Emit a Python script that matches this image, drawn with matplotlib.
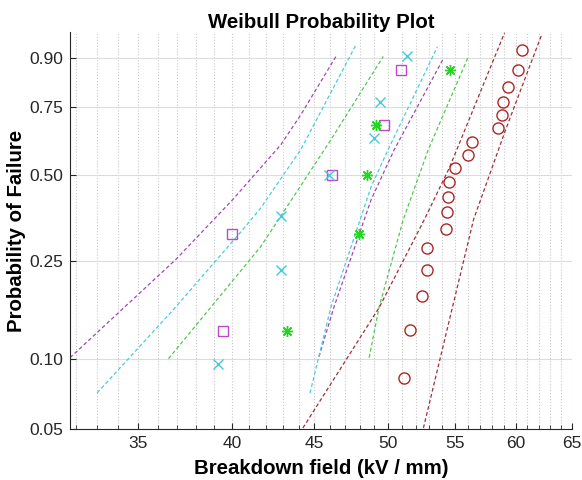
"""Weibull probability plot of breakdown field, four samples with confidence bounds."""

import numpy as np
import matplotlib
matplotlib.use("Agg")
import matplotlib.pyplot as plt
from matplotlib.ticker import FixedLocator, NullFormatter

plt.rcParams["font.family"] = ["Liberation Sans", "DejaVu Sans"]

# --- data (kV/mm, probability of failure) ---
sq_kv = [39.48, 39.99, 46.15, 49.72, 50.94]
sq_p = [0.130, 0.315, 0.500, 0.685, 0.870]

cross_kv = [39.19, 42.90, 42.90, 45.95, 49.01, 49.43, 51.38]
cross_p = [0.095, 0.230, 0.365, 0.500, 0.635, 0.770, 0.905]

star_kv = [43.27, 47.97, 48.52, 49.15, 54.65]
star_p = [0.130, 0.315, 0.500, 0.685, 0.870]

circ_kv = [51.16, 51.61, 52.50, 52.88, 52.88, 54.33, 54.41, 54.49, 54.57,
           55.04, 56.00, 56.32, 58.45, 58.79, 58.88, 59.30, 60.15, 60.50]
circ_p = [0.083, 0.132, 0.181, 0.230, 0.279, 0.328, 0.377, 0.426, 0.475,
          0.525, 0.574, 0.623, 0.672, 0.721, 0.770, 0.819, 0.868, 0.917]

# confidence bounds (lower/upper) per sample
sq_lo_kv = [31.75, 36.91, 40.05, 42.90, 44.14, 46.41]
sq_lo_p = [0.101, 0.252, 0.416, 0.611, 0.723, 0.903]
sq_hi_kv = [45.30, 46.28, 48.80, 50.44, 54.10]
sq_hi_p = [0.102, 0.164, 0.416, 0.593, 0.898]

cross_lo_kv = [33.00, 36.80, 40.62, 41.69, 44.14, 47.76]
cross_lo_p = [0.0715, 0.160, 0.326, 0.390, 0.593, 0.928]
cross_hi_kv = [44.72, 46.08, 48.80, 50.00, 53.64]
cross_hi_p = [0.0715, 0.164, 0.459, 0.593, 0.924]

star_lo_kv = [36.54, 41.69, 46.08, 49.65]
star_lo_p = [0.100, 0.283, 0.630, 0.903]
star_hi_kv = [48.66, 49.36, 51.09, 52.95, 56.07]
star_hi_p = [0.101, 0.164, 0.355, 0.593, 0.903]

circ_lo_kv = [44.27, 49.36, 52.65, 54.57, 59.04]
circ_lo_p = [0.0505, 0.163, 0.355, 0.526, 0.949]
circ_hi_kv = [52.58, 56.48, 59.13, 62.25]
circ_hi_p = [0.0505, 0.355, 0.668, 0.946]

y_ticks = [0.05, 0.10, 0.25, 0.50, 0.75, 0.90]
x_ticks = [35, 40, 45, 50, 55, 60, 65]


def _wbl(p):
    p = np.clip(np.asarray(p, dtype=float), 1e-9, 1 - 1e-9)
    return np.log(-np.log(1.0 - p))


def _wbl_inv(w):
    return 1.0 - np.exp(-np.exp(np.asarray(w, dtype=float)))


fig = plt.figure(figsize=(5.82, 4.8), dpi=100)
ax = fig.add_axes([0.1203, 0.1063, 0.8625, 0.827])
ax.set_xscale("log")
ax.set_yscale("function", functions=(_wbl, _wbl_inv))

dash = dict(linestyle=(0, (3, 2)), linewidth=0.9)
ax.plot(sq_lo_kv, sq_lo_p, color="#a048b8", **dash)
ax.plot(sq_hi_kv, sq_hi_p, color="#a048b8", **dash)
ax.plot(cross_lo_kv, cross_lo_p, color="#48cce0", **dash)
ax.plot(cross_hi_kv, cross_hi_p, color="#48cce0", **dash)
ax.plot(star_lo_kv, star_lo_p, color="#50c850", **dash)
ax.plot(star_hi_kv, star_hi_p, color="#50c850", **dash)
ax.plot(circ_lo_kv, circ_lo_p, color="#a03038", **dash)
ax.plot(circ_hi_kv, circ_hi_p, color="#a03038", **dash)

ax.plot(sq_kv, sq_p, "s", mfc="none", mec="#c048c8", ms=7, mew=1.0)
ax.plot(cross_kv, cross_p, "x", color="#40cce0", ms=7, mew=1.0)
ax.plot(star_kv, star_p, marker=(8, 2, 0), linestyle="none", color="#20d820",
        ms=8, mew=1.0)
ax.plot(circ_kv, circ_p, "o", mfc="none", mec="#a82828", ms=8, mew=1.0)

ax.set_xlim(31.75, 65)
ax.set_ylim(0.05, 0.95)

ax.xaxis.set_major_locator(FixedLocator(x_ticks))
ax.xaxis.set_minor_locator(FixedLocator(np.arange(32, 66)))
ax.xaxis.set_minor_formatter(NullFormatter())
ax.set_xticklabels([str(t) for t in x_ticks])
ax.yaxis.set_major_locator(FixedLocator(y_ticks))
ax.yaxis.set_minor_locator(FixedLocator([]))
ax.set_yticklabels([f"{t:.2f}" for t in y_ticks])

ax.tick_params(axis="both", which="major", direction="in", length=4,
               labelsize=12.5, colors="#262626", pad=5)
ax.tick_params(axis="x", which="minor", direction="in", length=3,
               colors="#262626")

ax.xaxis.grid(True, which="both", linestyle=":", color="#c8c8c8", linewidth=0.8)
ax.yaxis.grid(True, which="major", linestyle="-", color="#dcdcdc", linewidth=0.8)
ax.set_axisbelow(True)

for side in ("top", "right"):
    ax.spines[side].set_visible(False)
for side in ("left", "bottom"):
    ax.spines[side].set_color("#262626")
    ax.spines[side].set_linewidth(0.8)

ax.set_title("Weibull Probability Plot", fontsize=14.7, fontweight="bold", pad=3)
ax.set_xlabel("Breakdown field (kV / mm)", fontsize=14.7, fontweight="bold",
              labelpad=6)
ax.set_ylabel("Probability of Failure", fontsize=14.7, fontweight="bold",
              labelpad=2)

fig.savefig("out.png", dpi=100)
plt.close(fig)
